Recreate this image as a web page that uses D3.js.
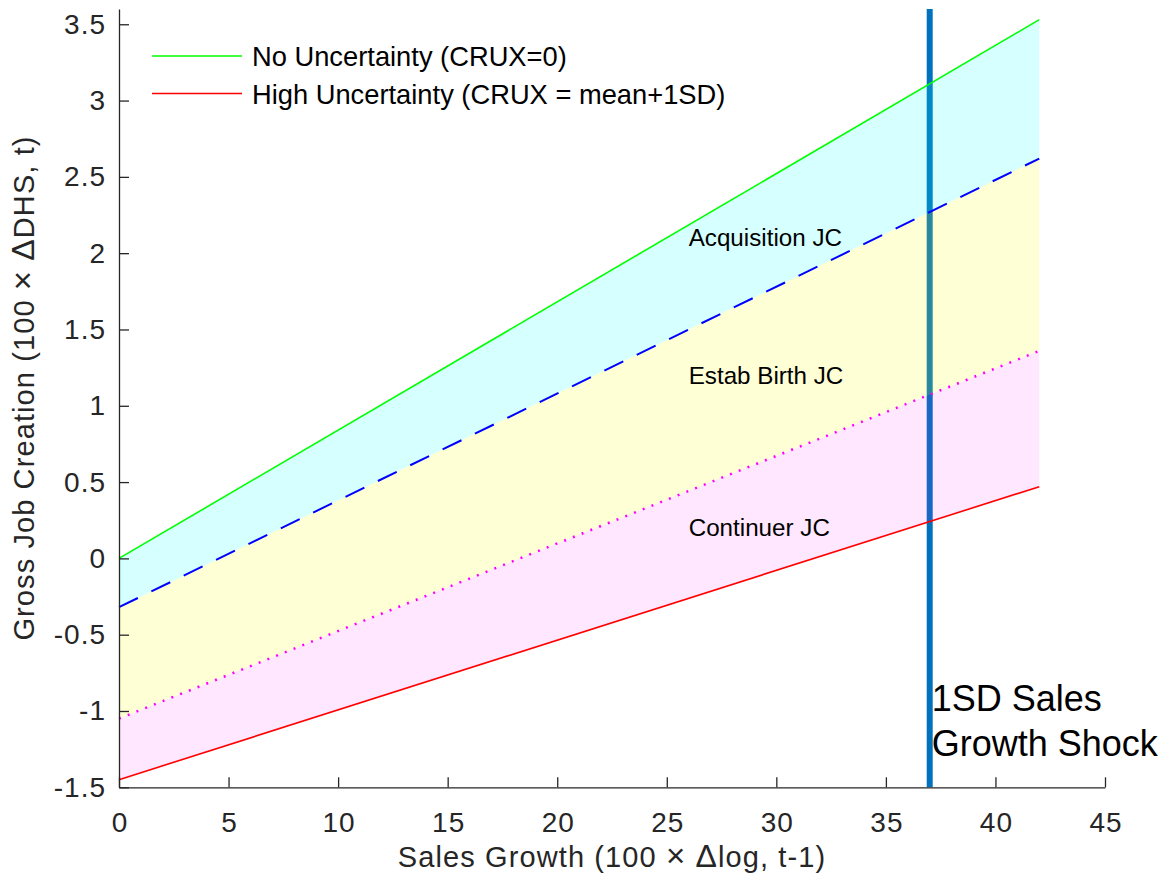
<!DOCTYPE html>
<html>
<head>
<meta charset="utf-8">
<script src="https://cdn.jsdelivr.net/npm/d3@7"></script>
<style>
  html, body { margin: 0; padding: 0; background: #fff; }
  svg { display: block; font-family: "Liberation Sans", Arial, Helvetica, sans-serif; }
</style>
</head>
<body>
<svg id="chart" width="1174" height="888"></svg>
<script>
// Sales growth endpoints of each schedule
const salesGrowth = [0, 42];
// Gross job creation bounds at those endpoints
const noUncertainty   = [0.00, 3.53];   // top: total JC with CRUX = 0
const acquisitionEdge = [-0.32, 2.62];  // lower edge of acquisition band
const birthEdge       = [-1.05, 1.36];  // lower edge of establishment-birth band
const highUncertainty = [-1.45, 0.47];  // bottom: CRUX = mean + 1SD

const shockX = 37;                       // 1SD sales growth shock
const xTicks = [0, 5, 10, 15, 20, 25, 30, 35, 40, 45];
const yTicks = [-1.5, -1, -0.5, 0, 0.5, 1, 1.5, 2, 2.5, 3, 3.5];

const bandNames = ["Acquisition JC", "Estab Birth JC", "Continuer JC"];
const bandLabelX = 26;
const bandLabelY = [2.1, 1.2, 0.2];

const legendLabels = ["No Uncertainty (CRUX=0)", "High Uncertainty (CRUX = mean+1SD)"];

const svg = d3.select("#chart");
svg.append("rect").attr("width", 1174).attr("height", 888).attr("fill", "#fff");

const x = d3.scaleLinear().domain([0, 45]).range([119, 1105]);
const y = d3.scaleLinear().domain([-1.5, 3.6]).range([787.3, 9]);

const toPts = vals => salesGrowth.map((g, i) => [g, vals[i]]);
const line = d3.line().x(d => x(d[0])).y(d => y(d[1]));
const area = d3.area().x(d => x(d.g)).y0(d => y(d.lo)).y1(d => y(d.hi));
const band = (hi, lo) => salesGrowth.map((g, i) => ({ g, hi: hi[i], lo: lo[i] }));

// shock marker (bands are laid translucently over it)
svg.append("line")
  .attr("x1", x(shockX)).attr("x2", x(shockX))
  .attr("y1", y(-1.5)).attr("y2", y(3.6))
  .attr("stroke", "#0072BD").attr("stroke-width", 6);

// decomposition bands
const bands = [
  { hi: noUncertainty, lo: acquisitionEdge, color: "#00ffff", op: 0.16 },
  { hi: acquisitionEdge, lo: birthEdge, color: "#ffff00", op: 0.16 },
  { hi: birthEdge, lo: highUncertainty, color: "#ff00ff", op: 0.09 }
];
bands.forEach(b => {
  svg.append("path")
    .attr("d", area(band(b.hi, b.lo)))
    .attr("fill", b.color).attr("fill-opacity", b.op);
});

// boundary lines
svg.append("path").attr("d", line(toPts(acquisitionEdge)))
  .attr("fill", "none").attr("stroke", "#0000ff").attr("stroke-width", 2)
  .attr("stroke-dasharray", "21,15");
svg.append("path").attr("d", line(toPts(birthEdge)))
  .attr("fill", "none").attr("stroke", "#ff00ff").attr("stroke-width", 2.5)
  .attr("stroke-dasharray", "2,7.4");
svg.append("path").attr("d", line(toPts(noUncertainty)))
  .attr("fill", "none").attr("stroke", "#00ff00").attr("stroke-width", 1.6);
svg.append("path").attr("d", line(toPts(highUncertainty)))
  .attr("fill", "none").attr("stroke", "#ff0000").attr("stroke-width", 1.6);

// axes with inward ticks
const axisColor = "#262626";
const gx = svg.append("g").attr("transform", `translate(0,${y(-1.5)})`)
  .call(d3.axisBottom(x).tickValues(xTicks).tickFormat(d => String(d))
    .tickSizeInner(-10).tickSizeOuter(0).tickPadding(25));
const gy = svg.append("g").attr("transform", `translate(${x(0)},0)`)
  .call(d3.axisLeft(y).tickValues(yTicks).tickFormat(d => String(d))
    .tickSizeInner(-10).tickSizeOuter(0).tickPadding(13));
[gx, gy].forEach(g => {
  g.select(".domain").attr("stroke", axisColor).attr("stroke-width", 1.3);
  g.selectAll(".tick line").attr("stroke", axisColor).attr("stroke-width", 1.3);
  g.selectAll(".tick text").attr("fill", axisColor)
    .style("font-size", "28px").style("letter-spacing", "1px")
    .style("font-family", "Liberation Sans, Arial, sans-serif");
});
gx.selectAll(".tick text").attr("dx", "0.5");

// axis titles, with slightly enlarged × and Δ symbols
function titleParts(sel, pre, sym, post) {
  sel.append("tspan").text(pre + " ");
  sel.append("tspan").style("font-size", "33px").text("×");
  sel.append("tspan").text(" ");
  sel.append("tspan").style("font-size", "32px").text("Δ");
  sel.append("tspan").text(post);
}
const xTitle = svg.append("text")
  .attr("x", (x(0) + x(45)) / 2).attr("y", 866.5)
  .attr("text-anchor", "middle").attr("fill", axisColor)
  .style("font-size", "29px").style("letter-spacing", "1.1px");
titleParts(xTitle, "Sales Growth (100", "×", "log, t-1)");

const yTitle = svg.append("text")
  .attr("transform", `translate(33.5,388) rotate(-90)`)
  .attr("text-anchor", "middle").attr("fill", axisColor)
  .style("font-size", "29px").style("letter-spacing", "1.1px");
titleParts(yTitle, "Gross Job Creation (100", "×", "DHS, t)");

// band labels
bandNames.forEach((name, i) => {
  svg.append("text")
    .attr("x", x(bandLabelX)).attr("y", y(bandLabelY[i]) + 8.5)
    .attr("fill", "#000").style("font-size", "24.2px").text(name);
});

// shock label
const shock = svg.append("text").attr("fill", "#000").style("font-size", "36px");
shock.append("tspan").attr("x", x(shockX) + 2).attr("y", 711).text("1SD Sales");
shock.append("tspan").attr("x", x(shockX) + 2).attr("y", 756).text("Growth Shock");

// legend
const legendColors = ["#00ff00", "#ff0000"];
legendLabels.forEach((lab, i) => {
  const ly = 56 + i * 37.5;
  svg.append("line").attr("x1", 152).attr("x2", 242).attr("y1", ly).attr("y2", ly)
    .attr("stroke", legendColors[i]).attr("stroke-width", 1.6);
  svg.append("text").attr("x", 252).attr("y", ly + 10)
    .attr("fill", "#000").style("font-size", "27.3px").text(lab);
});
</script>
</body>
</html>
